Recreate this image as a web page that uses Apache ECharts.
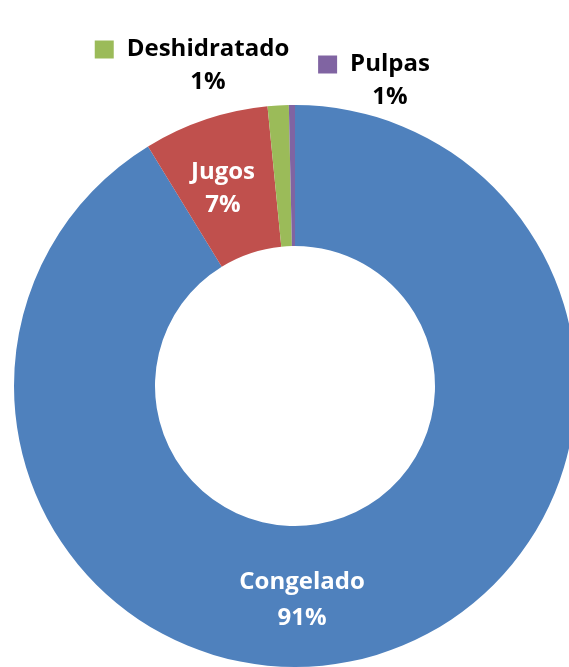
<!DOCTYPE html>
<html>
<head>
<meta charset="utf-8">
<script src="https://cdn.jsdelivr.net/npm/echarts@6/dist/echarts.min.js"></script>
<style>
  html, body { margin: 0; padding: 0; background: #fff; }
  #chart { width: 569px; height: 667px; }
</style>
</head>
<body>
<div id="chart"></div>
<script>
// shares (slice angles), and the percent text it prints
const categories = ['Congelado', 'Jugos', 'Deshidratado', 'Pulpas']
const shares = [91.24, 7.2, 1.21, 0.35]
const pctLabels = ['91%', '7%', '1%', '1%']
const colors = ['#4F81BD', '#C0504D', '#9BBB59', '#8064A2']

const font = '"Open Sans", "Noto Sans", sans-serif'
const fs = 24

// label anchors, as Excel left them
const labelAt = {
  0: [302, 600],
  1: [223, 189],
  2: [208, 66],
  3: [390, 81]
}

function labelFor(i) {
  if (i >= 2) {
    // legend key square outside the slice, text centred over the percent
    return {
      position: 'outside',
      color: '#000',
      formatter: '{sq|}{gap|}{name|' + categories[i] + '}{pad|}\n{pct|' + pctLabels[i] + '}',
      rich: {
        sq: { width: 19, height: 18, backgroundColor: colors[i] },
        gap: { width: 13 },
        pad: { width: 32 },
        name: { fontFamily: font, fontWeight: 'bold', fontSize: fs, color: '#000', lineHeight: 33 },
        pct: { fontFamily: font, fontWeight: 'bold', fontSize: fs, color: '#000', lineHeight: 33 }
      }
    }
  }
  return {
    position: 'inside',
    color: '#fff',
    fontFamily: font,
    fontWeight: 'bold',
    fontSize: fs,
    lineHeight: i === 0 ? 36 : 33,
    formatter: categories[i] + '\n' + pctLabels[i]
  }
}

const chart = echarts.init(document.getElementById('chart'))
chart.setOption({
  animation: false,
  backgroundColor: '#fff',
  series: [{
    type: 'pie',
    center: [295, 386],
    radius: [140, 281],
    startAngle: 90,
    clockwise: true,
    avoidLabelOverlap: false,
    labelLine: { show: false },
    emphasis: { disabled: true },
    itemStyle: { borderWidth: 0 },
    labelLayout: function (p) {
      const pos = labelAt[p.dataIndex]
      if (!pos) return {}
      return { x: pos[0], y: pos[1], align: 'center', verticalAlign: 'middle', hideOverlap: false }
    },
    data: categories.map((name, i) => ({
      name: name,
      value: shares[i],
      itemStyle: { color: colors[i] },
      label: labelFor(i)
    }))
  }]
})
</script>
</body>
</html>
